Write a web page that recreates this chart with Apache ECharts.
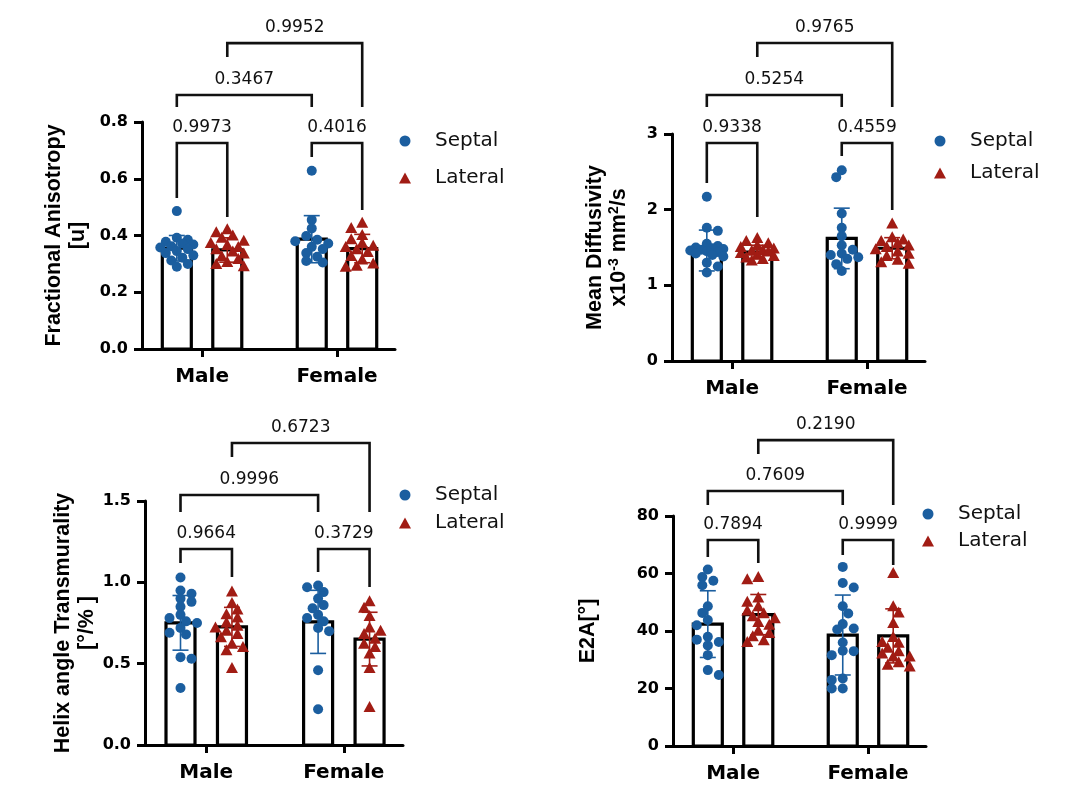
<!DOCTYPE html>
<html><head><meta charset="utf-8">
<script src="https://cdn.jsdelivr.net/npm/echarts@6/dist/echarts.min.js"></script>
<style>html,body{margin:0;padding:0;background:#fff}#c{width:1078px;height:806px}</style>
</head><body><div id="c"></div>
<script>
// ---------------- DATA ----------------
const categories = ['Male', 'Female'];
const groupNames = ['Septal', 'Lateral'];

// Fractional Anisotropy
const faTicks = [0, 0.2, 0.4, 0.6, 0.8];
const faSeptalMean = [0.355, 0.387];
const faSeptalSD = [0.045, 0.083];
const faLateralMean = [0.349, 0.354];
const faLateralSD = [0.043, 0.050];
const faSeptalMale = [0.486, 0.392, 0.385, 0.378, 0.372, 0.368, 0.362, 0.358, 0.352, 0.345, 0.338, 0.330, 0.322, 0.312, 0.300, 0.290];
const faLateralMale = [0.420, 0.410, 0.398, 0.390, 0.380, 0.372, 0.365, 0.358, 0.350, 0.342, 0.335, 0.325, 0.315, 0.305, 0.298, 0.290];
const faSeptalFemale = [0.628, 0.455, 0.425, 0.398, 0.385, 0.380, 0.372, 0.360, 0.352, 0.338, 0.325, 0.310, 0.305];
const faLateralFemale = [0.443, 0.425, 0.400, 0.385, 0.372, 0.362, 0.358, 0.350, 0.340, 0.326, 0.314, 0.300, 0.292, 0.288];
const faPValues = ['0.9973', '0.4016', '0.3467', '0.9952'];
const faBrackets = [[0.726, 0.532, 0.465], [0.726, 0.677, 0.490], [0.895, 0.853, 0.853], [1.078, 1.029, 0.853]];

// Mean Diffusivity
const mdTicks = [0, 1, 2, 3];
const mdSeptalMean = [1.46, 1.62];
const mdSeptalSD = [0.27, 0.40];
const mdLateralMean = [1.44, 1.49];
const mdLateralSD = [0.09, 0.14];
const mdSeptalMale = [2.17, 1.76, 1.72, 1.55, 1.52, 1.50, 1.49, 1.48, 1.47, 1.46, 1.45, 1.44, 1.42, 1.40, 1.38, 1.30, 1.25, 1.17];
const mdLateralMale = [1.62, 1.58, 1.55, 1.52, 1.50, 1.48, 1.46, 1.45, 1.44, 1.42, 1.40, 1.38, 1.36, 1.34, 1.32];
const mdSeptalFemale = [2.52, 2.43, 1.95, 1.76, 1.65, 1.53, 1.47, 1.42, 1.40, 1.37, 1.35, 1.28, 1.19];
const mdLateralFemale = [1.81, 1.63, 1.60, 1.58, 1.55, 1.52, 1.50, 1.47, 1.44, 1.41, 1.38, 1.33, 1.30, 1.28];
const mdPValues = ['0.9338', '0.4559', '0.5254', '0.9765'];
const mdBrackets = [[2.881, 2.352, 1.903], [2.881, 2.709, 1.996], [3.515, 3.357, 3.357], [4.203, 4.018, 3.357]];

// Helix angle Transmurality
const hatTicks = [0, 0.5, 1.0, 1.5];
const hatSeptalMean = [0.751, 0.757];
const hatSeptalSD = [0.168, 0.194];
const hatLateralMean = [0.726, 0.651];
const hatLateralSD = [0.120, 0.165];
const hatSeptalMale = [1.03, 0.95, 0.93, 0.90, 0.88, 0.85, 0.80, 0.78, 0.76, 0.75, 0.72, 0.69, 0.68, 0.54, 0.53, 0.35];
const hatLateralMale = [0.94, 0.87, 0.83, 0.80, 0.78, 0.75, 0.73, 0.72, 0.70, 0.68, 0.66, 0.62, 0.60, 0.58, 0.47];
const hatSeptalFemale = [0.98, 0.97, 0.94, 0.90, 0.86, 0.84, 0.80, 0.78, 0.76, 0.72, 0.70, 0.46, 0.22];
const hatLateralFemale = [0.88, 0.84, 0.79, 0.72, 0.70, 0.68, 0.65, 0.62, 0.60, 0.56, 0.47, 0.23];
const hatPValues = ['0.9664', '0.3729', '0.9996', '0.6723'];
const hatBrackets = [[1.205, 1.119, 1.033], [1.205, 1.063, 0.971], [1.537, 1.432, 1.432], [1.857, 1.770, 1.432]];

// E2A
const e2aTicks = [0, 20, 40, 60, 80];
const e2aSeptalMean = [42.4, 38.6];
const e2aSeptalSD = [11.6, 13.9];
const e2aLateralMean = [45.7, 38.3];
const e2aLateralSD = [7.0, 9.4];
const e2aSeptalMale = [61.4, 58.8, 57.5, 55.9, 48.6, 46.3, 43.8, 42.0, 38.0, 37.0, 36.2, 35.0, 31.6, 26.4, 24.7];
const e2aLateralMale = [58.6, 57.8, 51.5, 50.0, 48.4, 47.0, 46.0, 45.0, 44.3, 43.0, 42.0, 40.0, 39.1, 38.0, 36.6, 36.0];
const e2aSeptalFemale = [62.3, 56.7, 55.1, 48.6, 46.1, 42.4, 40.9, 40.5, 36.0, 33.1, 33.0, 31.6, 23.5, 23.0, 20.0, 20.0];
const e2aLateralFemale = [60.0, 48.4, 46.3, 42.6, 37.7, 36.0, 35.7, 34.0, 32.8, 32.0, 31.0, 31.0, 29.0, 28.1, 27.5];
const e2aPValues = ['0.7894', '0.9999', '0.7609', '0.2190'];
const e2aBrackets = [[71.65, 65.7, 63.65], [71.65, 66.4, 62.96], [88.7, 83.8, 83.8], [106.4, 101.6, 83.8]];

// ---------------- LAYOUT / STYLE ----------------
const BLUE = '#1b5e9f';
const RED = '#a11c14';
const XMIN = 0.555, XMAX = 2.43, OFF = 0.187;
const BAR_W = 29, CAP = 16, MR = 5;
const bracketPairs = [[0, 1], [2, 3], [0, 2], [1, 3]]; // bar slots: 0 MaleS,1 MaleL,2 FemaleS,3 FemaleL
const slotX = [1 - OFF, 1 + OFF, 2 - OFF, 2 + OFF];

const panels = [
  { grid: { left: 142, top: 122, width: 253, height: 227 }, ticks: faTicks, dec: 1,
    name: 'Fractional Anisotropy\n[u]', nameGap: 52,
    legend: { left: 394, top: 126, gap: 17 },
    sMean: faSeptalMean, sSD: faSeptalSD, lMean: faLateralMean, lSD: faLateralSD,
    sPts: [faSeptalMale, faSeptalFemale], lPts: [faLateralMale, faLateralFemale],
    p: faPValues, br: faBrackets },
  { grid: { left: 672, top: 134, width: 253, height: 227 }, ticks: mdTicks, dec: 0,
    name: 'Mean Diffusivity\nx10{sup|-3} mm{sup|2}/s', nameGap: 41,
    legend: { left: 929, top: 126, gap: 12 },
    sMean: mdSeptalMean, sSD: mdSeptalSD, lMean: mdLateralMean, lSD: mdLateralSD,
    sPts: [mdSeptalMale, mdSeptalFemale], lPts: [mdLateralMale, mdLateralFemale],
    p: mdPValues, br: mdBrackets },
  { grid: { left: 145, top: 501, width: 258, height: 244 }, ticks: hatTicks, dec: 1,
    name: 'Helix angle Transmurality\n[°/% ]', nameGap: 46,
    legend: { left: 394, top: 480, gap: 8 },
    sMean: hatSeptalMean, sSD: hatSeptalSD, lMean: hatLateralMean, lSD: hatLateralSD,
    sPts: [hatSeptalMale, hatSeptalFemale], lPts: [hatLateralMale, hatLateralFemale],
    p: hatPValues, br: hatBrackets },
  { grid: { left: 673, top: 516, width: 253, height: 230 }, ticks: e2aTicks, dec: 0,
    name: 'E2A[°]', nameGap: 73,
    legend: { left: 917, top: 499, gap: 7 },
    sMean: e2aSeptalMean, sSD: e2aSeptalSD, lMean: e2aLateralMean, lSD: e2aLateralSD,
    sPts: [e2aSeptalMale, e2aSeptalFemale], lPts: [e2aLateralMale, e2aLateralFemale],
    p: e2aPValues, br: e2aBrackets }
];

// simple beeswarm offsets in pixels (layout only)
function swarm(ys, d) {
  const order = ys.map((y, i) => i).sort((a, b) => ys[a] - ys[b]);
  const placed = [];
  const off = new Array(ys.length).fill(0);
  const step = d * 0.55;
  order.forEach((i, n) => {
    const y = ys[i];
    const cands = [0];
    for (let k = 1; k <= 3; k++) { if (n % 2) cands.push(-k * step, k * step); else cands.push(k * step, -k * step); }
    let chosen = null, bestScore = Infinity;
    for (const c of cands) {
      let minD = Infinity;
      for (const p of placed) {
        const dx = p[0] - c, dy = p[1] - y;
        minD = Math.min(minD, dx * dx + dy * dy);
      }
      if (minD >= d * d * 0.6) { chosen = c; break; }
      if (-minD < bestScore) { bestScore = -minD; chosen = c; }
    }
    off[i] = chosen; placed.push([chosen, y]);
  });
  return off;
}

function marker(kind, cx, cy, color) {
  if (kind === 'circle') return { type: 'circle', shape: { cx: cx, cy: cy, r: MR }, style: { fill: color } };
  return { type: 'polygon', shape: { points: [[cx, cy - 6.5], [cx + 6, cy + 4.5], [cx - 6, cy + 4.5]] }, style: { fill: color } };
}

function groupRenderer(ptsArr, color, kind) {
  return function (params, api) {
    const i = params.dataIndex;
    const x = api.value(0), mean = api.value(1), sd = api.value(2);
    const base = api.coord([x, 0]);
    const top = api.coord([x, mean]);
    const ch = [];
    ch.push({ type: 'rect', shape: { x: base[0] - BAR_W / 2, y: top[1], width: BAR_W, height: base[1] - top[1] },
      style: { fill: '#fff', stroke: '#000', lineWidth: 3.2 } });
    const pts = ptsArr[i].map(v => api.coord([x, v]));
    const offs = swarm(pts.map(p => p[1]), MR * 2);
    pts.forEach((p, k) => ch.push(marker(kind, p[0] + offs[k], p[1], color)));
    const hi = api.coord([x, mean + sd]), lo = api.coord([x, mean - sd]);
    const es = { stroke: color, lineWidth: 1.6 };
    ch.push({ type: 'line', shape: { x1: base[0], y1: hi[1], x2: base[0], y2: lo[1] }, style: es });
    ch.push({ type: 'line', shape: { x1: base[0] - CAP / 2, y1: hi[1], x2: base[0] + CAP / 2, y2: hi[1] }, style: es });
    ch.push({ type: 'line', shape: { x1: base[0] - CAP / 2, y1: lo[1], x2: base[0] + CAP / 2, y2: lo[1] }, style: es });
    return { type: 'group', children: ch };
  };
}

function bracketRenderer(labels) {
  return function (params, api) {
    const x1 = api.value(0), x2 = api.value(1), t = api.value(2), le = api.value(3), re = api.value(4);
    const a = api.coord([x1, le]), b = api.coord([x1, t]), c = api.coord([x2, t]), d = api.coord([x2, re]);
    return { type: 'group', children: [
      { type: 'polyline', shape: { points: [a, b, c, d] }, style: { stroke: '#111', lineWidth: 2.6, fill: null } },
      { type: 'text', x: (b[0] + c[0]) / 2, y: b[1] - 7,
        style: { text: labels[params.dataIndex], align: 'center', verticalAlign: 'bottom',
          fontFamily: 'DejaVu Sans', fontSize: 17, fill: '#111' } }
    ] };
  };
}

const grids = [], xAxes = [], yAxes = [], series = [], legends = [];
panels.forEach((P, gi) => {
  grids.push(Object.assign({ containLabel: false }, P.grid));
  xAxes.push({
    type: 'value', gridIndex: gi, min: XMIN, max: XMAX,
    axisLine: { show: true, onZero: false, lineStyle: { color: '#000', width: 3 } },
    axisTick: { show: true, length: 8, lineStyle: { color: '#000', width: 3 }, customValues: [1, 2] },
    axisLabel: { customValues: [1, 2], formatter: v => categories[Math.round(v) - 1] || '', margin: 18,
      fontFamily: 'DejaVu Sans', fontWeight: 'bold', fontSize: 20, color: '#000' },
    splitLine: { show: false }
  });
  const tk = P.ticks;
  yAxes.push({
    type: 'value', gridIndex: gi, min: tk[0], max: tk[tk.length - 1], interval: tk[1] - tk[0],
    axisLine: { show: true, lineStyle: { color: '#000', width: 3 } },
    axisTick: { show: true, length: 8, lineStyle: { color: '#000', width: 3 } },
    axisLabel: { formatter: v => v.toFixed(P.dec), margin: 14, fontFamily: 'DejaVu Sans', fontWeight: 'bold', fontSize: 16, color: '#000' },
    splitLine: { show: false },
    name: P.name, nameLocation: 'middle', nameGap: P.nameGap, nameRotate: 90,
    nameTextStyle: { fontFamily: 'Liberation Sans', fontWeight: 'bold', fontSize: 21.5, lineHeight: 24, color: '#000',
      rich: { sup: { fontFamily: 'Liberation Sans', fontWeight: 'bold', fontSize: 14, verticalAlign: 'top', lineHeight: 14, padding: [0, 0, 9, 0] } } }
  });
  series.push({
    type: 'custom', name: 'Septal', xAxisIndex: gi, yAxisIndex: gi, clip: false, z: 3,
    itemStyle: { color: BLUE },
    renderItem: groupRenderer(P.sPts, BLUE, 'circle'),
    data: categories.map((c, k) => [slotX[k * 2], P.sMean[k], P.sSD[k]])
  });
  series.push({
    type: 'custom', name: 'Lateral', xAxisIndex: gi, yAxisIndex: gi, clip: false, z: 3,
    itemStyle: { color: RED },
    renderItem: groupRenderer(P.lPts, RED, 'triangle'),
    data: categories.map((c, k) => [slotX[k * 2 + 1], P.lMean[k], P.lSD[k]])
  });
  series.push({
    type: 'custom', xAxisIndex: gi, yAxisIndex: gi, clip: false, z: 4, silent: true,
    renderItem: bracketRenderer(P.p),
    data: bracketPairs.map((pr, k) => [slotX[pr[0]], slotX[pr[1]], P.br[k][0], P.br[k][1], P.br[k][2]])
  });
  legends.push({
    left: P.legend.left, top: P.legend.top, orient: 'vertical', itemWidth: 12, itemHeight: 11, itemGap: P.legend.gap,
    selectedMode: false,
    data: [{ name: 'Septal', icon: 'circle', itemStyle: { color: BLUE } }, { name: 'Lateral', icon: 'triangle', itemStyle: { color: RED } }],
    textStyle: { fontFamily: 'DejaVu Sans', fontSize: 20, lineHeight: 20, color: '#111', padding: [0, 0, 0, 19] }
  });
});

const chart = echarts.init(document.getElementById('c'), null, { renderer: 'canvas' });
chart.setOption({
  animation: false,
  backgroundColor: '#fff',
  grid: grids, xAxis: xAxes, yAxis: yAxes, legend: legends, series: series
});
</script>
</body></html>
